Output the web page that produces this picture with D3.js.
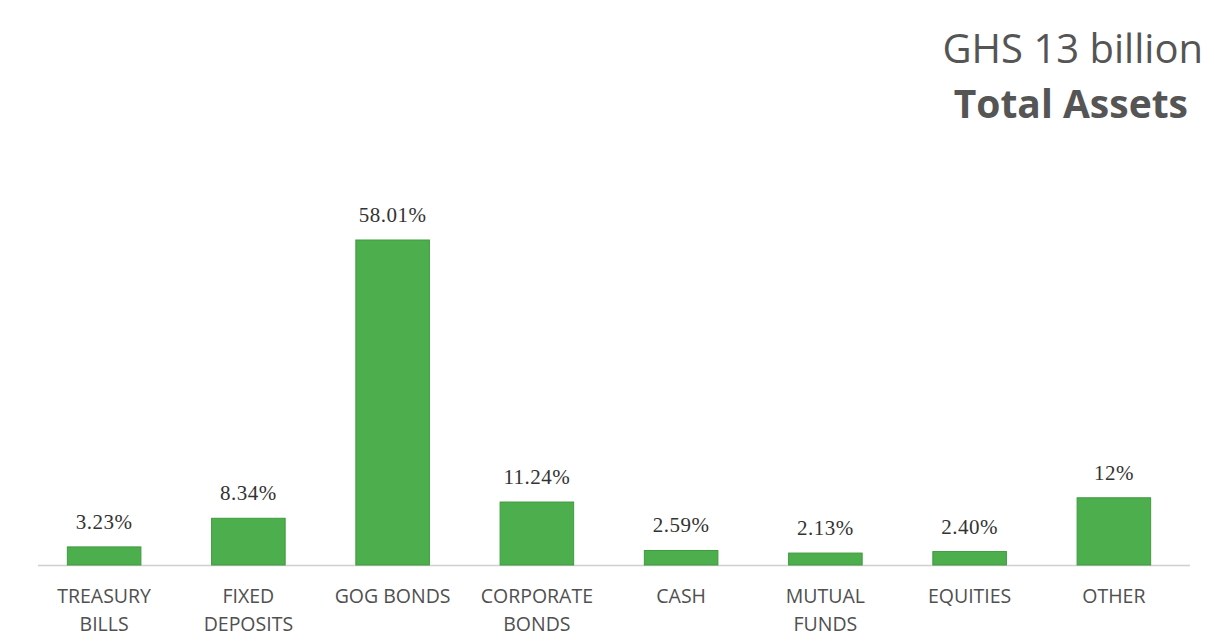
<!DOCTYPE html>
<html><head><meta charset="utf-8">
<script src="https://cdn.jsdelivr.net/npm/d3@7"></script>
<style>body{margin:0;background:#fff}svg{display:block}</style>
</head><body>
<svg id="c" width="1214" height="643"></svg>
<script>
const categories = [["TREASURY","BILLS"],["FIXED","DEPOSITS"],["GOG BONDS"],["CORPORATE","BONDS"],["CASH"],["MUTUAL","FUNDS"],["EQUITIES"],["OTHER"]];
const values = [3.23, 8.34, 58.01, 11.24, 2.59, 2.13, 2.40, 12];
const valueLabels = ["3.23%","8.34%","58.01%","11.24%","2.59%","2.13%","2.40%","12%"];
const titleLines = ["GHS 13 billion","Total Assets"];

const svg = d3.select("#c");
const baseY = 565;
const x = d3.scaleBand().domain(d3.range(values.length)).range([32, 1186]).paddingInner(0.49).paddingOuter(0.245);
const y = d3.scaleLinear().domain([0, 58.01]).range([baseY, 240]);

svg.append("line").attr("x1",38).attr("x2",1190).attr("y1",baseY+0.5).attr("y2",baseY+0.5)
  .attr("stroke","#d0d0d0").attr("stroke-width",1.5);

svg.selectAll("rect.bar").data(values).join("rect").attr("class","bar")
  .attr("x",(d,i)=>x(i)).attr("width",x.bandwidth())
  .attr("y",d=>y(d)).attr("height",d=>baseY-y(d))
  .attr("fill","#4cae4c").attr("stroke","#3f9b3f").attr("stroke-width",1);

svg.selectAll("text.val").data(values).join("text").attr("class","val")
  .attr("x",(d,i)=>x(i)+x.bandwidth()/2).attr("y",d=>y(d)-18)
  .attr("text-anchor","middle").attr("font-family","Liberation Serif, Times New Roman, serif")
  .attr("font-size",21).attr("letter-spacing",0.5).attr("fill","#333").text((d,i)=>valueLabels[i]);

const cat = svg.selectAll("text.cat").data(categories).join("text").attr("class","cat")
  .attr("text-anchor","middle").attr("font-family","Open Sans, Lato, sans-serif")
  .attr("font-size",19.5).attr("fill","#505050");
cat.each(function(d,i){
  const t = d3.select(this);
  d.forEach((line,j)=>{
    t.append("tspan").attr("x",x(i)+x.bandwidth()/2).attr("y",603+j*28).text(line);
  });
});

svg.append("text").attr("x",1203).attr("y",63).attr("text-anchor","end")
  .attr("font-family","Open Sans, sans-serif").attr("font-size",40).attr("fill","#555").text(titleLines[0]);
svg.append("text").attr("x",1188).attr("y",118).attr("text-anchor","end")
  .attr("font-family","Open Sans, sans-serif").attr("font-weight","bold").attr("font-size",39).attr("fill","#555").text(titleLines[1]);
</script>
</body></html>
